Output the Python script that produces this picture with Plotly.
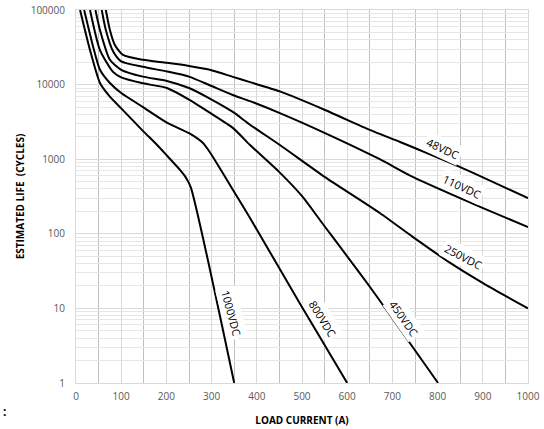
import plotly.graph_objects as go

# ---- data (load current in A, estimated life in cycles) ----
x_48 = [66, 75, 86, 104, 148, 201, 250, 296, 347, 385, 451, 551, 650, 717, 849, 1000]
y_48 = [100000, 54000, 34000, 25000, 21500, 19600, 17800, 15800, 12700, 10800, 8100, 4570, 2470, 1700, 790, 300]

x_110 = [57, 66, 82, 100, 148, 201, 250, 296, 347, 385, 451, 551, 672, 745, 894, 1000]
y_110 = [100000, 54000, 28000, 20500, 17300, 15000, 12800, 9800, 7250, 6000, 4150, 2240, 1000, 580, 230, 123]

x_250 = [43, 53, 75, 100, 148, 201, 250, 296, 347, 385, 451, 551, 672, 745, 827, 905, 1000]
y_250 = [100000, 54000, 21500, 15800, 12800, 11200, 9000, 6500, 4300, 2900, 1550, 575, 190, 91, 41, 21, 10]

x_450 = [31, 53, 82, 100, 148, 201, 250, 296, 347, 385, 451, 502, 540, 650, 801]
y_450 = [100000, 29000, 14800, 12500, 10400, 9000, 6300, 4200, 2630, 1550, 660, 310, 152, 19.5, 1]

x_800 = [18, 38, 53, 75, 100, 148, 201, 252, 281, 292, 303, 347, 385, 495, 600]
y_800 = [100000, 32000, 15800, 10500, 7700, 5000, 3100, 2200, 1650, 1350, 1070, 390, 163, 11.7, 1]

x_1000 = [9, 31, 53, 74, 100, 148, 179, 201, 230, 243, 254, 350]
y_1000 = [100000, 29000, 10500, 7000, 4800, 2400, 1560, 1120, 720, 570, 420, 1]

series_names = ["48VDC", "110VDC", "250VDC", "450VDC", "800VDC", "1000VDC"]
series_x = [x_48, x_110, x_250, x_450, x_800, x_1000]
series_y = [y_48, y_110, y_250, y_450, y_800, y_1000]

# label anchor positions (current, log10 life) and rotation
label_x = [812, 854, 856, 726, 546, 343]
label_logy = [3.15, 2.64, 1.69, 0.87, 0.87, 0.94]
label_angle = [25, 25, 28, 55, 58, 75]

x_ticks = list(range(0, 1001, 100))
y_ticks = [1, 10, 100, 1000, 10000, 100000]
y_ticktext = ["1", "10", "100", "1000", "10000", "100000"]

FONT = "Open Sans"

fig = go.Figure()
for name, xs, ys in zip(series_names, series_x, series_y):
    fig.add_trace(go.Scatter(
        x=xs, y=ys, mode="lines", name=name,
        line=dict(color="black", width=2, shape="spline", smoothing=0.6),
        showlegend=False, hoverinfo="skip",
    ))

for name, lx, ly, ang in zip(series_names, label_x, label_logy, label_angle):
    fig.add_annotation(
        x=lx, y=ly, text=name, showarrow=False, textangle=ang,
        font=dict(family=FONT, size=11, color="black"),
        bgcolor="white", borderpad=2,
    )

# stray cropped glyph at bottom-left of reference
fig.add_annotation(
    x=-0.166, y=-0.105, xref="paper", yref="paper", text="<b>:</b>",
    showarrow=False, font=dict(family=FONT, size=12, color="black"),
)

fig.update_layout(
    template="none",
    width=544, height=429, autosize=False,
    margin=dict(l=76, r=16, t=10, b=46, pad=0),
    paper_bgcolor="white", plot_bgcolor="white",
    font=dict(family=FONT, size=10, color="#595959"),
    xaxis=dict(
        range=[0, 1000], tickvals=x_ticks, ticks="", automargin=False,
        showgrid=True, gridcolor="#d9d9d9", gridwidth=1,
        minor=dict(dtick=50, showgrid=True, gridcolor="#bfbfbf", gridwidth=1),
        showline=True, linecolor="#d9d9d9", mirror=True,
        zeroline=False, ticklabelstandoff=4,
        tickfont=dict(family=FONT, size=10, color="#595959"),
        title=dict(text="<b>LOAD CURRENT (A)</b>", standoff=14,
                   font=dict(family=FONT, size=10, color="black")),
    ),
    yaxis=dict(
        type="log", range=[0, 5], tickvals=y_ticks, ticktext=y_ticktext, ticks="",
        automargin=False,
        showgrid=True, gridcolor="#d9d9d9", gridwidth=1,
        minor=dict(dtick="D1", showgrid=True, gridcolor="#e6e6e6", gridwidth=1),
        showline=True, linecolor="#d9d9d9", mirror=True,
        zeroline=False, ticklabelstandoff=8,
        tickfont=dict(family=FONT, size=10, color="#595959"),
        title=dict(text="<b>ESTIMATED LIFE  (CYCLES)</b>", standoff=4,
                   font=dict(family=FONT, size=10, color="black")),
    ),
)

# remove the browser's default 8px page margin so the 544x429 figure fills the window
fig.write_html("out.html", config={"displayModeBar": False},
               post_script="document.body.style.margin='0';")
